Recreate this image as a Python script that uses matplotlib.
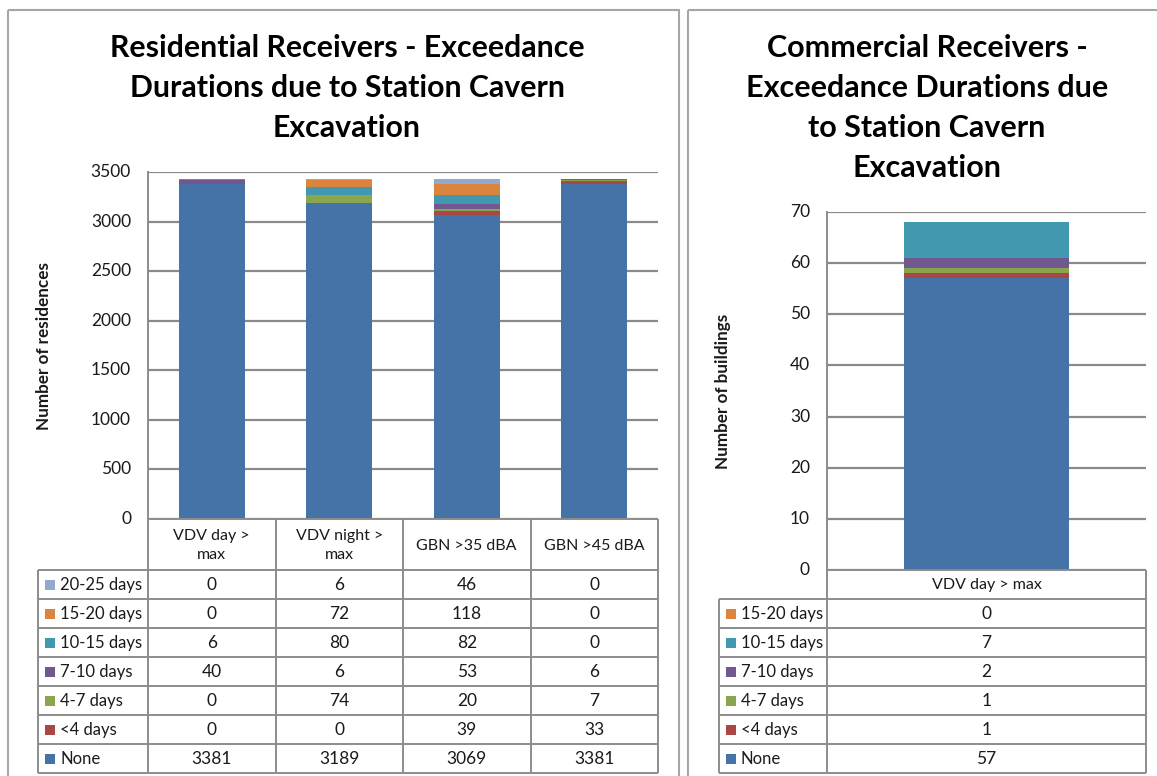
import matplotlib
matplotlib.use("Agg")
import matplotlib.pyplot as plt
from matplotlib.patches import Rectangle

W, H = 1157, 776
plt.rcParams['font.family'] = ['Lato', 'DejaVu Sans']

# ---- data -------------------------------------------------------------
res_categories = ["VDV day >\nmax", "VDV night >\nmax", "GBN >35 dBA", "GBN >45 dBA"]
res_none = [3381, 3189, 3069, 3381]
res_lt4 = [0, 0, 39, 33]
res_4_7 = [0, 74, 20, 7]
res_7_10 = [40, 6, 53, 6]
res_10_15 = [6, 80, 82, 0]
res_15_20 = [0, 72, 118, 0]
res_20_25 = [0, 6, 46, 0]
res_yticks = [0, 500, 1000, 1500, 2000, 2500, 3000, 3500]

com_categories = ["VDV day > max"]
com_none = [57]
com_lt4 = [1]
com_4_7 = [1]
com_7_10 = [2]
com_10_15 = [7]
com_15_20 = [0]
com_yticks = [0, 10, 20, 30, 40, 50, 60, 70]

band_names = ["None", "<4 days", "4-7 days", "7-10 days",
              "10-15 days", "15-20 days", "20-25 days"]
band_colors = ["#4572A7", "#AA4643", "#89A54E", "#71588F",
               "#4198AF", "#DB843D", "#93A9CF"]

GRID = "#8a8a8a"
LINE = "#8c8c8c"
FRAME = "#a6a6a6"
TXT = "#1a1a1a"

fig = plt.figure(figsize=(W / 100, H / 100), dpi=100)
fig.patch.set_facecolor("white")

# overlay in pixel coordinates for frames and the data tables
deco = fig.add_axes([0, 0, 1, 1], zorder=5)
deco.set_xlim(0, W)
deco.set_ylim(H, 0)
deco.axis("off")
deco.patch.set_alpha(0)


def px_axes(left, top, right, bottom):
    return fig.add_axes([left / W, 1 - bottom / H, (right - left) / W, (bottom - top) / H])


def hline(x0, x1, y, color=LINE, lw=1.4):
    deco.plot([x0, x1], [y, y], color=color, lw=lw, solid_capstyle="butt")


def vline(x, y0, y1, color=LINE, lw=1.4):
    deco.plot([x, x], [y0, y1], color=color, lw=lw, solid_capstyle="butt")


def draw_panel(box, title_lines, title_cx, title_y0, title_fs, ylabel, ylabel_x,
               categories, series, yticks, tick_x,
               label_left, header_top, header_bottom, row_h, table_bottom,
               cat_fs):
    left, top, right, bottom = box
    ax = px_axes(left, top, right, bottom)
    n = len(categories)
    x = list(range(n))
    base = [0] * n
    for vals, color in zip(series, band_colors):
        ax.bar(x, vals, bottom=base, width=0.515, color=color, zorder=3, linewidth=0)
        base = [b + v for b, v in zip(base, vals)]
    ax.set_xlim(-0.5, n - 0.5)
    ax.set_ylim(yticks[0], yticks[-1])
    ax.set_yticks(yticks)
    ax.set_yticklabels([])
    ax.tick_params(left=False, bottom=False, labelbottom=False)
    ax.grid(axis="y", color=GRID, lw=1.6, zorder=1)
    for s in ["top", "right", "bottom"]:
        ax.spines[s].set_visible(False)
    ax.spines["left"].set_color(LINE)
    ax.spines["left"].set_linewidth(1.4)

    # y tick labels
    for t in yticks:
        ypx = bottom - (t - yticks[0]) / (yticks[-1] - yticks[0]) * (bottom - top)
        deco.text(tick_x, ypx, f"{t}", ha="right", va="center", fontsize=12.5, color=TXT)

    deco.text(ylabel_x, (top + bottom) / 2, ylabel, rotation=90, ha="center",
              va="center", fontsize=12.3, fontweight="bold", color=TXT)

    for i, line in enumerate(title_lines):
        deco.text(title_cx, title_y0 + 40 * i, line, ha="center", va="center",
                  fontsize=title_fs, fontweight="bold", color="#000000")

    # data table
    col_w = (right - left) / n
    nrows = len(series)
    hline(left, right, header_top)
    hline(label_left, right, header_bottom)
    for j in range(n + 1):
        vline(left + j * col_w, header_top, table_bottom)
    vline(label_left, header_bottom, table_bottom)
    for j, cat in enumerate(categories):
        deco.text(left + (j + 0.5) * col_w, (header_top + header_bottom) / 2 + 1, cat,
                  ha="center", va="center", fontsize=cat_fs, color=TXT, linespacing=1.45)
    # rows: highest band on top, "None" at bottom
    for r in range(nrows):
        k = nrows - 1 - r
        y0 = header_bottom + r * row_h
        hline(label_left, right, y0 + row_h)
        yc = y0 + row_h / 2
        deco.add_patch(Rectangle((label_left + 7, yc - 5), 10, 10,
                                 color=band_colors[k], lw=0))
        deco.text(label_left + 22, yc + 0.5, band_names[k], ha="left", va="center",
                  fontsize=12, color=TXT)
        for j in range(n):
            deco.text(left + (j + 0.5) * col_w, yc + 0.5, f"{series[k][j]}",
                      ha="center", va="center", fontsize=12.5, color=TXT)


# panel frames
deco.add_patch(Rectangle((8, 10), 671, 800, fill=False, ec=FRAME, lw=1.5))
deco.add_patch(Rectangle((688, 10), 600, 800, fill=False, ec=FRAME, lw=1.5))

draw_panel(
    box=(148, 172, 658, 519),
    title_lines=["Residential Receivers - Exceedance",
                 "Durations due to Station Cavern", "Excavation"],
    title_cx=347, title_y0=48, title_fs=21.8,
    ylabel="Number of residences", ylabel_x=44,
    categories=res_categories,
    series=[res_none, res_lt4, res_4_7, res_7_10, res_10_15, res_15_20, res_20_25],
    yticks=res_yticks, tick_x=131,
    label_left=38, header_top=519, header_bottom=570, row_h=29, table_bottom=773,
    cat_fs=11.5,
)

draw_panel(
    box=(827, 212, 1146, 570),
    title_lines=["Commercial Receivers -", "Exceedance Durations due",
                 "to Station Cavern", "Excavation"],
    title_cx=927, title_y0=48, title_fs=22,
    ylabel="Number of buildings", ylabel_x=723,
    categories=com_categories,
    series=[com_none, com_lt4, com_4_7, com_7_10, com_10_15, com_15_20],
    yticks=com_yticks, tick_x=810,
    label_left=719, header_top=570, header_bottom=599, row_h=29, table_bottom=773,
    cat_fs=11.5,
)

fig.savefig("out.png", dpi=100, facecolor="white")
